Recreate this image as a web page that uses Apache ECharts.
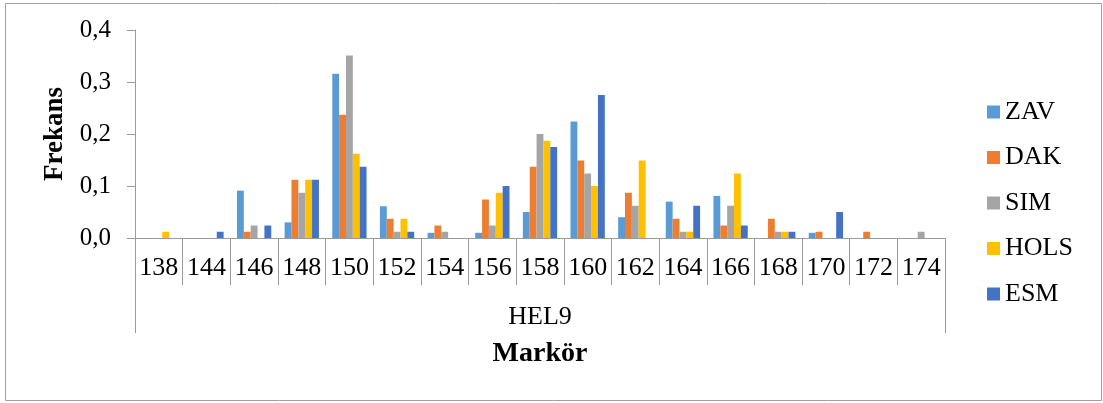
<!DOCTYPE html>
<html>
<head>
<meta charset="utf-8">
<script src="https://cdn.jsdelivr.net/npm/echarts@6/dist/echarts.min.js"></script>
<style>
  html, body { margin: 0; padding: 0; background: #fff; }
  #chart { width: 1103px; height: 403px; }
</style>
</head>
<body>
<div id="chart"></div>
<script>
// HEL9 marker allele frequencies per population
const categories = ['138', '144', '146', '148', '150', '152', '154', '156', '158', '160', '162', '164', '166', '168', '170', '172', '174'];
const groupLabel = ['HEL9'];
const seriesNames = ['ZAV', 'DAK', 'SIM', 'HOLS', 'ESM'];
const zav  = [0, 0, 0.091, 0.030, 0.316, 0.061, 0.010, 0.010, 0.050, 0.224, 0.040, 0.070, 0.081, 0, 0.010, 0, 0];
const dak  = [0, 0, 0.012, 0.112, 0.237, 0.037, 0.024, 0.074, 0.137, 0.149, 0.087, 0.037, 0.024, 0.037, 0.012, 0.012, 0];
const sim  = [0, 0, 0.024, 0.087, 0.351, 0.012, 0.012, 0.024, 0.200, 0.124, 0.062, 0.012, 0.062, 0.012, 0, 0, 0.012];
const hols = [0.012, 0, 0, 0.112, 0.162, 0.037, 0, 0.087, 0.187, 0.100, 0.149, 0.012, 0.124, 0.012, 0, 0, 0];
const esm  = [0, 0.012, 0.024, 0.112, 0.137, 0.012, 0, 0.100, 0.175, 0.275, 0, 0.062, 0.024, 0.012, 0.050, 0, 0];
const colors = ['#5B9BD5', '#ED7D31', '#A5A5A5', '#FFC000', '#4472C4'];

const serif = '"Liberation Serif", "Times New Roman", serif';
const axisGray = '#9a9a9a';
const values = [zav, dak, sim, hols, esm];

const chart = echarts.init(document.getElementById('chart'), null, { renderer: 'canvas' });
chart.setOption({
  animation: false,
  color: colors,
  textStyle: { fontFamily: serif, color: '#000' },
  graphic: [{
    type: 'rect',
    shape: { x: 5.5, y: 3.5, width: 1096, height: 397 },
    style: { fill: 'none', stroke: '#a0a0a0', lineWidth: 1 },
    silent: true
  }],
  grid: { left: 135, right: 158, top: 30, bottom: 165, containLabel: false },
  legend: {
    orient: 'vertical',
    left: 987,
    top: 99,
    padding: 0,
    itemWidth: 13,
    itemHeight: 13,
    itemGap: 19.5,
    icon: 'rect',
    textStyle: { fontFamily: serif, fontSize: 26, color: '#000' },
    data: seriesNames
  },
  xAxis: [{
    type: 'category',
    data: categories,
    position: 'bottom',
    boundaryGap: true,
    axisLine: { show: true, lineStyle: { color: axisGray, width: 1 } },
    axisTick: { show: true, interval: 0, length: 47, lineStyle: { color: axisGray } },
    axisLabel: { interval: 0, margin: 17, fontFamily: serif, fontSize: 26, color: '#000' },
    splitLine: { show: false }
  }, {
    type: 'category',
    data: groupLabel,
    position: 'bottom',
    boundaryGap: true,
    axisLine: { show: false },
    axisTick: { show: true, interval: 0, length: 95, lineStyle: { color: axisGray } },
    axisLabel: { interval: 0, margin: 66, fontFamily: serif, fontSize: 26, color: '#000' },
    name: 'Markör',
    nameLocation: 'middle',
    nameGap: 102,
    nameTextStyle: { fontFamily: serif, fontSize: 28, fontWeight: 'bold', color: '#000' },
    splitLine: { show: false }
  }],
  yAxis: {
    type: 'value',
    min: 0,
    max: 0.4,
    interval: 0.1,
    name: 'Frekans',
    nameLocation: 'middle',
    nameRotate: 90,
    nameGap: 66,
    nameTextStyle: { fontFamily: serif, fontSize: 27, fontWeight: 'bold', color: '#000' },
    axisLine: { show: true, lineStyle: { color: axisGray, width: 1 } },
    axisTick: { show: true, length: 8, lineStyle: { color: axisGray } },
    axisLabel: {
      margin: 24,
      fontFamily: serif,
      fontSize: 25,
      color: '#000',
      formatter: v => v.toFixed(1).replace('.', ',')
    },
    splitLine: { show: false }
  },
  series: seriesNames.map((name, i) => ({
    name: name,
    type: 'bar',
    xAxisIndex: 0,
    data: values[i],
    barGap: '0%',
    barCategoryGap: '28%',
    itemStyle: { color: colors[i] }
  }))
});
</script>
</body>
</html>
